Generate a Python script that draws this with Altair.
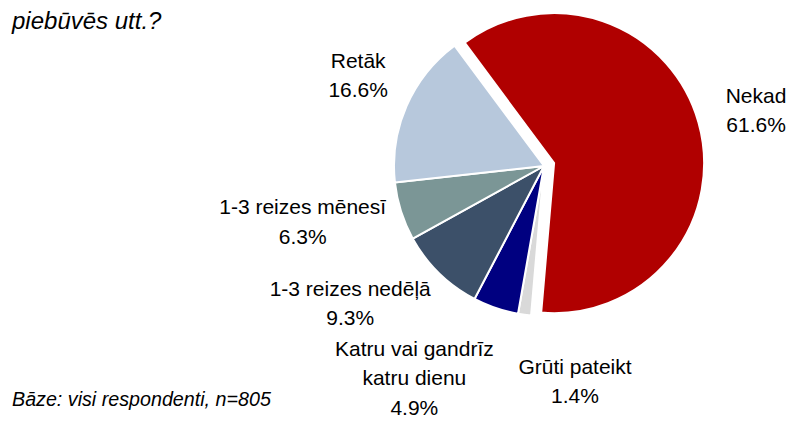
import math
import altair as alt
import pandas as pd

# ---- data ----
categories = ["Nekad", "Grūti pateikt", "Katru vai gandrīz katru dienu",
              "1-3 reizes nedēļā", "1-3 reizes mēnesī", "Retāk"]
values = [61.6, 1.4, 4.9, 9.3, 6.3, 16.6]
label_names = ["Nekad", "Grūti pateikt", "Katru vai gandrīz\nkatru dienu",
               "1-3 reizes nedēļā", "1-3 reizes mēnesī", "Retāk"]
colors = ["#B00000", "#D9D9D9", "#000080", "#3C5069", "#7B9696", "#B7C8DC"]
title_text = "piebūvēs utt.?"
footer_text = "Bāze: visi respondenti, n=805"

# ---- layout / style (not data) ----
FONT = "Liberation Sans"
FS = 21
W, H = 780, 415
CX, CY = 536, 158          # pie centre
R = 150                    # pie radius
START_DEG = -36.6          # angle where first slice starts
EXPLODE = 10.5             # explosion of the first slice
label_radius = {"Nekad": 223, "Grūti pateikt": 204, "Katru vai gandrīz katru dienu": 225,
                "1-3 reizes nedēļā": 230, "1-3 reizes mēnesī": 245, "Retāk": 213}
label_nudge_deg = {"Nekad": -2.2, "Grūti pateikt": -16.2, "Katru vai gandrīz katru dienu": 16.4,
                   "1-3 reizes nedēļā": 13.1, "1-3 reizes mēnesī": 7.7, "Retāk": 5.7}

total = sum(values)
rows = []
acc = 0.0
for c, v, n in zip(categories, values, label_names):
    s, e = acc, acc + v
    acc = e
    mid = (s + e) / 2
    rows.append({
        "cat": c, "value": v, "start": s, "end": e, "mid": mid,
        "label": f"{n}\n{v:.1f}%",
        "label_pos": mid + label_nudge_deg[c] / 360 * total,
        "label_r": label_radius[c],
    })
df = pd.DataFrame(rows)

start_rad = math.radians(START_DEG)
theta_scale = alt.Scale(domain=[0, total], range=[start_rad, start_rad + 2 * math.pi])
color_scale = alt.Scale(domain=categories, range=colors)

# explosion offset along bisector of first slice
mid0 = start_rad + 2 * math.pi * df.loc[0, "mid"] / total
ex_dx = EXPLODE * math.sin(mid0)
ex_dy = -EXPLODE * math.cos(mid0)

base = alt.Chart(df)

arc_rest = base.transform_filter(alt.datum.cat != categories[0]).mark_arc(
    stroke="white", strokeWidth=2
).encode(
    theta=alt.Theta("start:Q", scale=theta_scale, stack=None),
    theta2="end:Q",
    color=alt.Color("cat:N", scale=color_scale, legend=None),
    radius=alt.value(R),
    x=alt.value(CX), y=alt.value(CY),
)

arc_first = base.transform_filter(alt.datum.cat == categories[0]).mark_arc(
    stroke="white", strokeWidth=2
).encode(
    theta=alt.Theta("start:Q", scale=theta_scale, stack=None),
    theta2="end:Q",
    color=alt.Color("cat:N", scale=color_scale, legend=None),
    radius=alt.value(R),
    x=alt.value(CX + ex_dx), y=alt.value(CY + ex_dy),
)

labels = base.mark_text(
    font=FONT, fontSize=FS, lineBreak="\n", lineHeight=29.5,
    align="center", baseline="middle", color="#000000"
).encode(
    theta=alt.Theta("label_pos:Q", scale=theta_scale, stack=None),
    radius=alt.Radius("label_r:Q", scale=None),
    text="label:N",
    x=alt.value(CX), y=alt.value(CY),
)

title = alt.Chart(pd.DataFrame({"t": [title_text]})).mark_text(
    font=FONT, fontSize=24, fontStyle="italic", align="left", baseline="alphabetic", color="#000000"
).encode(text="t:N", x=alt.value(4), y=alt.value(21))

footer = alt.Chart(pd.DataFrame({"t": [footer_text]})).mark_text(
    font=FONT, fontSize=19.7, fontStyle="italic", align="left", baseline="alphabetic", color="#000000"
).encode(text="t:N", x=alt.value(4), y=alt.value(398))

chart = alt.layer(arc_rest, arc_first, labels, title, footer).properties(
    width=W, height=H, padding=0, background="white",
    autosize=alt.AutoSizeParams(type="none"),
).configure_view(stroke=None)

chart.save("out.html", embed_options={"renderer": "svg", "actions": False})
